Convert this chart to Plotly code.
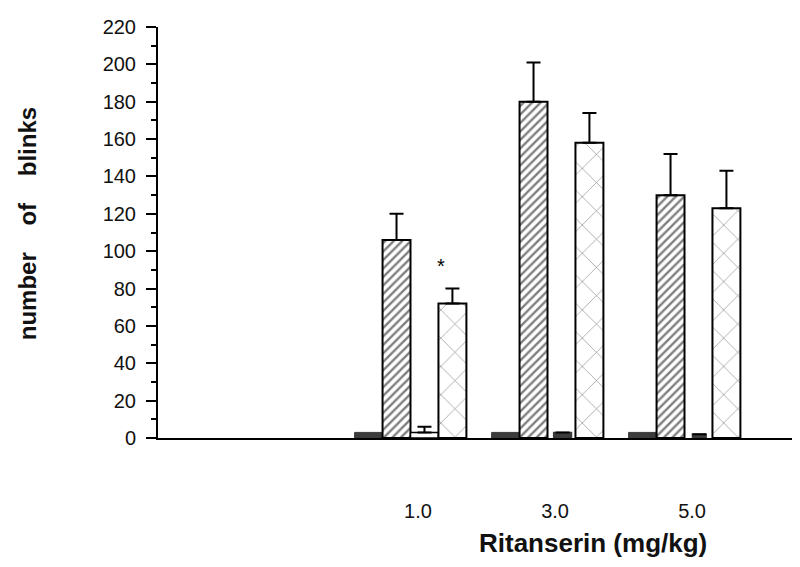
import plotly.graph_objects as go

# ---- data ----
doses = ["1.0", "3.0", "5.0"]
series_a = [3, 3, 3]            # dark, small bars
series_b = [106, 180, 130]      # hatched bars
series_b_err = [14, 21, 22]
series_c = [3, 3, 2]            # small bars
series_c_err = [3, 0, 0]
series_d = [72, 158, 123]       # dashed-pattern bars
series_d_err = [8, 16, 20]
y_ticks = list(range(0, 221, 20))

# ---- layout helpers ----
xpos = [i + 2 for i in range(len(doses))]
w = 0.204
dark = "#3b3b3b"
line = dict(color="black", width=2)
font = "Liberation Sans, Arial, Helvetica, sans-serif"

fig = go.Figure()

fig.add_trace(go.Bar(
    x=xpos, y=series_a, width=w, offset=-2 * w,
    marker=dict(color=dark, line=dict(color=dark, width=1)),
    showlegend=False,
))
fig.add_trace(go.Bar(
    x=xpos, y=series_b, width=w, offset=-w,
    marker=dict(color="white", line=line,
                pattern=dict(shape="/", fgcolor="black", bgcolor="white",
                             size=6, solidity=0.4)),
    error_y=dict(type="data", symmetric=False, array=series_b_err,
                 arrayminus=[0] * 3, color="black", thickness=2, width=7),
    showlegend=False,
))
fig.add_trace(go.Bar(
    x=xpos, y=series_c, width=[w, 0.13, 0.10], offset=[0, 0.045, 0.058],
    marker=dict(color=["white", dark, dark],
                line=dict(color=["black", dark, dark], width=1.5)),
    error_y=dict(type="data", symmetric=False, array=series_c_err,
                 arrayminus=[0] * 3, color="black", thickness=2, width=7),
    showlegend=False,
))
fig.add_trace(go.Bar(
    x=xpos, y=series_d, width=w, offset=w,
    marker=dict(color="white", line=line,
                pattern=dict(shape="x", fgcolor="black", bgcolor="white",
                             size=20, solidity=0.06)),
    error_y=dict(type="data", symmetric=False, array=series_d_err,
                 arrayminus=[0] * 3, color="black", thickness=2, width=7),
    showlegend=False,
))

# significance star above first dashed bar
fig.add_annotation(x=xpos[0] + 1.1 * w, y=series_d[0] + series_d_err[0] + 12,
                   text="*", showarrow=False,
                   font=dict(family=font, size=20, color="black"))

fig.update_layout(
    width=800, height=567,
    margin=dict(l=150, r=8, t=12, b=137),
    plot_bgcolor="white", paper_bgcolor="white",
    barmode="overlay",
    xaxis=dict(
        range=[0.157, 4.843], showgrid=False, zeroline=False,
        showline=True, linecolor="black", linewidth=2,
        tickvals=[x + 0.055 for x in xpos], ticktext=doses, ticks="",
        ticklabelstandoff=54,
        tickfont=dict(family=font, size=20, color="#111"),
    ),
    yaxis=dict(
        range=[0, 220], showgrid=False, zeroline=False,
        showline=True, linecolor="black", linewidth=2,
        tickvals=y_ticks, ticks="outside", ticklen=10, tickwidth=2,
        tickcolor="black", ticklabelstandoff=6,
        minor=dict(dtick=10, ticks="outside", ticklen=5, tickwidth=2,
                   tickcolor="black", showgrid=False),
        tickfont=dict(family=font, size=20, color="#111"),
    ),
    annotations=list(fig.layout.annotations) + [
        dict(text="number \u00a0\u00a0\u00a0of \u00a0\u00a0\u00a0blinks", textangle=-90,
             xref="paper", yref="paper", x=(27 - 158) / 642, y=0.52,
             xanchor="center", yanchor="middle", showarrow=False,
             font=dict(family=font, size=24, color="#111", weight="bold")),
        dict(text="Ritanserin (mg/kg)",
             xref="paper", yref="paper", x=(593 - 158) / 642,
             y=(438 - 545) / 418, xanchor="center", yanchor="middle",
             showarrow=False,
             font=dict(family=font, size=26, color="#111", weight="bold")),
    ],
)

fig.write_html("out.html")
